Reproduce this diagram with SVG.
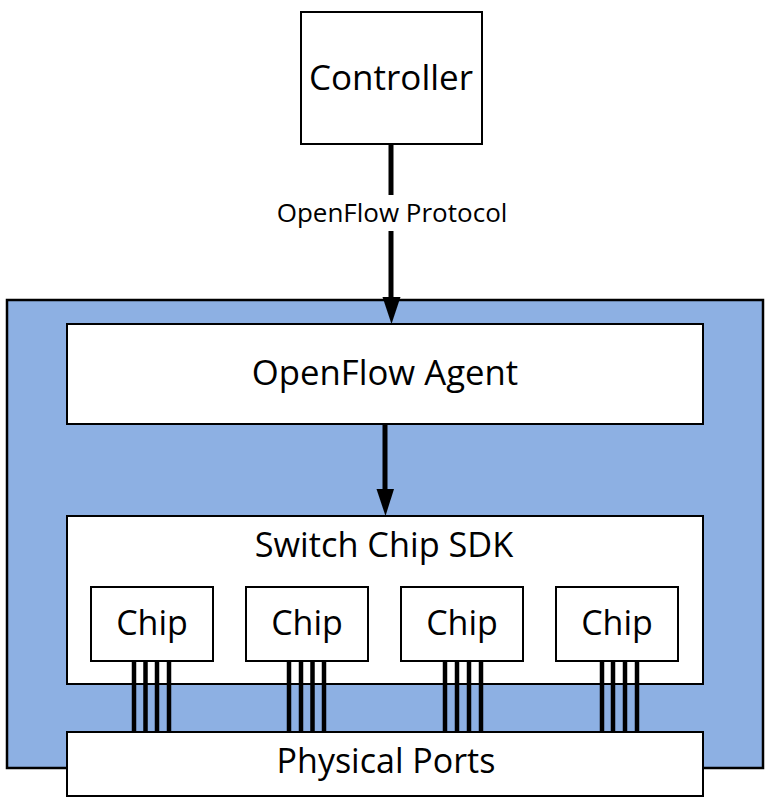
<svg xmlns="http://www.w3.org/2000/svg" width="774" height="807" viewBox="0 0 774 807">
<style>
.box{fill:#fff;stroke:#000;stroke-width:2}
.lbl{font-family:"Open Sans","Noto Sans",sans-serif;fill:#000;text-anchor:middle}
.wire{stroke:#000;stroke-width:4.5}
.conn{stroke:#000;stroke-width:5;fill:none}
</style>
<rect width="774" height="807" fill="#fff"/>
<g id="switch">
<rect x="7" y="300" width="756" height="468" fill="#8DB0E3" stroke="#000" stroke-width="2.5"/>
</g>
<g id="controller">
<rect class="box" x="301" y="12" width="181" height="132"/>
<text class="lbl" x="391" y="90" font-size="35">Controller</text>
</g>
<g id="agent">
<rect class="box" x="67" y="324" width="636" height="100"/>
<text class="lbl" x="385" y="385" font-size="34.7">OpenFlow Agent</text>
</g>
<g id="sdk">
<rect class="box" x="67" y="516" width="636" height="168"/>
<text class="lbl" x="384" y="557" font-size="34.3">Switch Chip SDK</text>
</g>
<g id="chip1"><rect class="box" x="91" y="587" width="122" height="74"/><text class="lbl" x="152" y="635" font-size="34">Chip</text></g>
<g id="chip2"><rect class="box" x="246" y="587" width="122" height="74"/><text class="lbl" x="307" y="635" font-size="34">Chip</text></g>
<g id="chip3"><rect class="box" x="401" y="587" width="122" height="74"/><text class="lbl" x="462" y="635" font-size="34">Chip</text></g>
<g id="chip4"><rect class="box" x="556" y="587" width="122" height="74"/><text class="lbl" x="617" y="635" font-size="34">Chip</text></g>
<g id="connectors">
<line class="conn" x1="391" y1="144" x2="391" y2="195"/>
<line class="conn" x1="391" y1="231" x2="391" y2="298"/>
<polygon points="382.5,297 400.5,297 391.5,324" fill="#000"/>
<line class="conn" x1="385" y1="424" x2="385" y2="490" stroke-width="4.5"/>
<polygon points="376.5,489 394,489 385.5,516" fill="#000"/>
<g>
<line class="wire" x1="134" y1="661" x2="134" y2="733"/><line class="wire" x1="145.5" y1="661" x2="145.5" y2="733"/><line class="wire" x1="157" y1="661" x2="157" y2="733"/><line class="wire" x1="169" y1="661" x2="169" y2="733"/>
<line class="wire" x1="289" y1="661" x2="289" y2="733"/><line class="wire" x1="301" y1="661" x2="301" y2="733"/><line class="wire" x1="312.5" y1="661" x2="312.5" y2="733"/><line class="wire" x1="324" y1="661" x2="324" y2="733"/>
<line class="wire" x1="445" y1="661" x2="445" y2="733"/><line class="wire" x1="457" y1="661" x2="457" y2="733"/><line class="wire" x1="469" y1="661" x2="469" y2="733"/><line class="wire" x1="481" y1="661" x2="481" y2="733"/>
<line class="wire" x1="602" y1="661" x2="602" y2="733"/><line class="wire" x1="613" y1="661" x2="613" y2="733"/><line class="wire" x1="625" y1="661" x2="625" y2="733"/><line class="wire" x1="637" y1="661" x2="637" y2="733"/>
</g>
<text class="lbl" x="392" y="222" font-size="26">OpenFlow Protocol</text>
</g>
<g id="ports">
<rect class="box" x="67" y="732" width="636" height="64"/>
<text class="lbl" x="386" y="773" font-size="34">Physical Ports</text>
</g>
</svg>
